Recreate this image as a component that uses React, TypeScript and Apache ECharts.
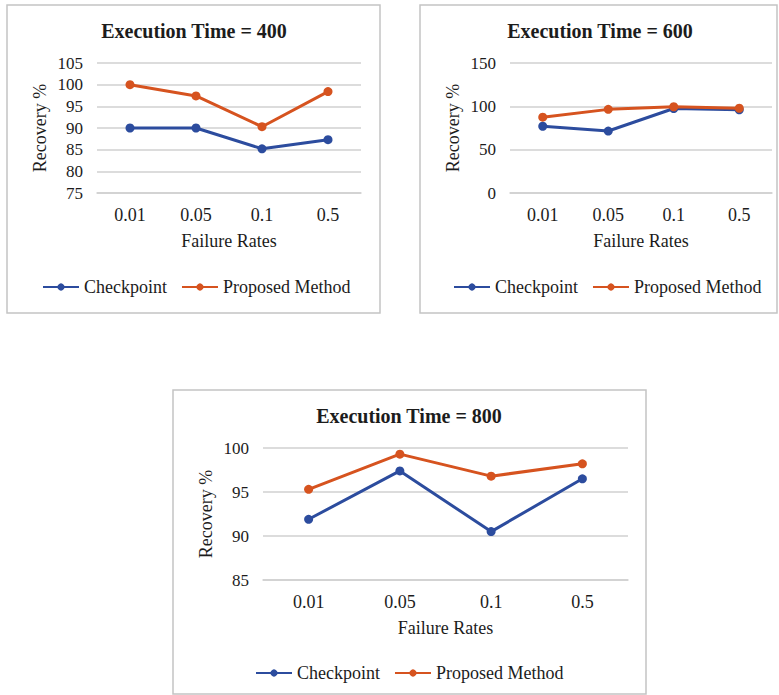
import React, { useEffect, useRef } from "react";
import * as echarts from "echarts";

const categories = ["0.01", "0.05", "0.1", "0.5"];
const seriesNames = ["Checkpoint", "Proposed Method"];
const titles = ["Execution Time = 400", "Execution Time = 600", "Execution Time = 800"];
const checkpoint400 = [90, 90, 85.2, 87.3];
const proposed400 = [100, 97.4, 90.3, 98.4];
const checkpoint600 = [77, 71.5, 97.5, 96];
const proposed600 = [87.5, 96.5, 99.5, 97.8];
const checkpoint800 = [91.9, 97.4, 90.5, 96.5];
const proposed800 = [95.3, 99.3, 96.8, 98.2];
const yMin = [75, 0, 85];
const yMax = [105, 150, 100];
const yStep = [5, 50, 5];
const xAxisName = "Failure Rates";
const yAxisName = "Recovery %";

const FONT = "'Liberation Serif', 'Times New Roman', serif";
const BLUE = "#2C4C9E";
const ORANGE = "#D6531F";
const TEXT = "#1c1c1c";

// layout of the three panels (pixels)
const panels = [
  { box: [7, 5, 373, 308], grid: { left: 97, top: 63, width: 264, height: 130 }, titleX: 194, titleY: 21, legendX: 42, legendY: 278 },
  { box: [420, 5, 357, 308], grid: { left: 510, top: 63, width: 262, height: 130 }, titleX: 600, titleY: 21, legendX: 453, legendY: 278 },
  { box: [173, 390, 473, 304], grid: { left: 263, top: 448, width: 365, height: 132 }, titleX: 409, titleY: 406, legendX: 255, legendY: 664 },
];

export default function App() {
  const ref = useRef<HTMLDivElement>(null);
  useEffect(() => {
    if (!ref.current) return;
    const chart = echarts.init(ref.current, undefined, { renderer: "svg" });
    const data = [
      [checkpoint400, proposed400],
      [checkpoint600, proposed600],
      [checkpoint800, proposed800],
    ];
    const option: any = {
      animation: false,
      backgroundColor: "#ffffff",
      textStyle: { fontFamily: FONT, color: TEXT },
      title: panels.map((p, i) => ({
        text: titles[i],
        left: p.titleX,
        top: p.titleY,
        textAlign: "center",
        padding: 0,
        textStyle: { fontFamily: FONT, fontSize: 20, fontWeight: "bold", color: TEXT },
      })),
      legend: panels.map((p) => ({
        data: seriesNames,
        left: p.legendX,
        top: p.legendY,
        orient: "horizontal",
        itemWidth: 36,
        itemHeight: 9,
        itemGap: 14,
        padding: 0,
        selectedMode: false,
        textStyle: { fontFamily: FONT, fontSize: 18, color: TEXT },
      })),
      grid: panels.map((p) => ({ ...p.grid, containLabel: false })),
      xAxis: panels.map((p, i) => ({
        type: "category",
        gridIndex: i,
        data: categories,
        boundaryGap: true,
        name: xAxisName,
        nameLocation: "middle",
        nameGap: 39,
        nameTextStyle: { fontFamily: FONT, fontSize: 18, color: TEXT },
        axisLine: { show: true, lineStyle: { color: "#d0d0d0", width: 1.5 } },
        axisTick: { show: false },
        axisLabel: { margin: 13, fontFamily: FONT, fontSize: 18, color: TEXT },
      })),
      yAxis: panels.map((p, i) => ({
        type: "value",
        gridIndex: i,
        min: yMin[i],
        max: yMax[i],
        interval: yStep[i],
        name: yAxisName,
        nameLocation: "middle",
        nameGap: 48,
        nameRotate: 90,
        nameTextStyle: { fontFamily: FONT, fontSize: 18, color: TEXT },
        axisLine: { show: false },
        axisTick: { show: false },
        axisLabel: { margin: 14, fontFamily: FONT, fontSize: 17, color: TEXT },
        splitLine: { show: true, lineStyle: { color: "#d0d0d0", width: 1.5 } },
      })),
      series: data.flatMap((pair, i) =>
        pair.map((vals, k) => ({
          type: "line",
          name: seriesNames[k],
          xAxisIndex: i,
          yAxisIndex: i,
          data: vals,
          symbol: "circle",
          symbolSize: 9,
          lineStyle: { width: 3, color: k === 0 ? BLUE : ORANGE },
          itemStyle: { color: k === 0 ? BLUE : ORANGE },
          z: 2 + k,
        }))
      ),
      graphic: panels.map((p) => ({
        type: "rect",
        shape: { x: p.box[0], y: p.box[1], width: p.box[2], height: p.box[3] },
        style: { fill: "none", stroke: "#c4c4c4", lineWidth: 1.5 },
        silent: true,
        z: -1,
      })),
    };
    chart.setOption(option);
    return () => chart.dispose();
  }, []);
  return <div ref={ref} style={{ position: "fixed", left: 0, top: 0, width: 779, height: 695 }} />;
}
